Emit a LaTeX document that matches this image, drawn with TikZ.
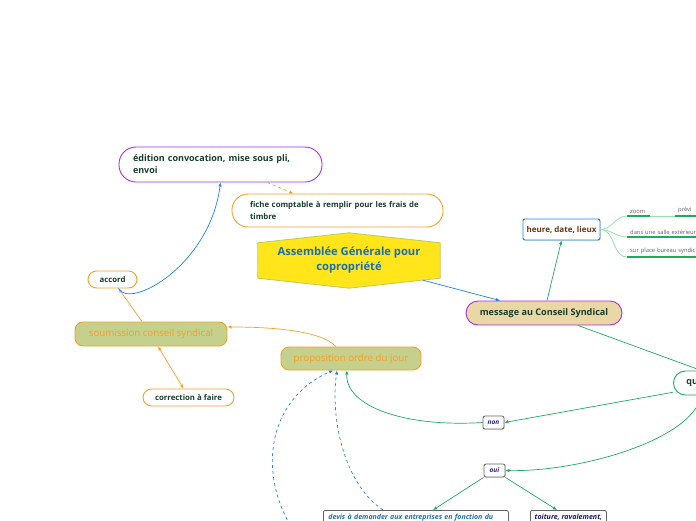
\documentclass[tikz,border=0pt]{standalone}
\usepackage{fontspec}
\setmainfont{Open Sans}
\usetikzlibrary{arrows.meta, shadows, backgrounds}

\definecolor{mmviolet}{RGB}{170,45,230}
\definecolor{mmtexte}{RGB}{25,62,45}
\definecolor{mmorange}{RGB}{246,160,40}
\definecolor{mmolive}{RGB}{196,208,140}
\definecolor{mmsable}{RGB}{233,215,166}
\definecolor{mmjaune}{RGB}{255,229,25}
\definecolor{mmjbord}{RGB}{185,205,90}
\definecolor{mmbleu}{RGB}{30,130,230}
\definecolor{mmbleutxt}{RGB}{25,110,180}
\definecolor{mmvert}{RGB}{30,170,95}
\definecolor{mmvertclair}{RGB}{150,225,175}
\definecolor{mmgris}{RGB}{100,100,100}
\definecolor{mmbrun}{RGB}{105,55,20}
\definecolor{mmindigo}{RGB}{40,30,165}

\begin{document}
\begin{tikzpicture}[
        x=1pt, y=-1pt,
        bulle/.style={draw=mmorange, line width=0.9pt, fill=white, text=mmtexte, inner sep=0pt, font=\bfseries},
        pilule/.style={bulle, rounded corners=#1},
        sujet/.style={draw=mmorange, line width=0.9pt, fill=mmolive, text=mmorange, inner sep=0pt, rounded corners=8pt, font=\fontsize{9.7}{11}\selectfont},
        boite/.style={draw=mmgris, line width=0.8pt, fill=white, rounded corners=2pt, inner sep=0pt,
            font=\bfseries\itshape\fontsize{6.5}{8}\selectfont, drop shadow={opacity=0.25, shadow xshift=0.8pt, shadow yshift=-0.8pt}},
        feuille/.style={anchor=south west, inner xsep=3pt, inner ysep=2.5pt, align=left, text=mmgris, font=\fontsize{5.8}{6.5}\selectfont},
        souligne/.style={draw=mmvert, line width=1.2pt},
        branche/.style={draw=mmvertclair, line width=0.8pt},
        fleche/.style={line width=0.7pt, -{Latex[length=4pt,width=3.5pt]}},
        hexa/.style={fill=mmjaune, draw=mmjbord, line width=0.8pt}
    ]
    \useasboundingbox (0,0) rectangle (696,520);
    \clip (0,0) rectangle (696,520);

    % sujet central
    \node[text=mmbleutxt, font=\bfseries\fontsize{11.2}{15}\selectfont, align=center,
        minimum width=182pt, minimum height=55pt, inner sep=0pt] (agc) at (349,260.5) {Assemblée Générale pour\\copropriété};
    \begin{scope}[on background layer]
        \filldraw[hexa] ([yshift=-10pt]agc.north west) -- (agc.north) -- ([yshift=-10pt]agc.north east)
            -- ([yshift=10pt]agc.south east) -- (agc.south) -- ([yshift=10pt]agc.south west) -- cycle;
    \end{scope}

    % branche gauche
    \node[pilule=17pt, draw=mmviolet, minimum height=35pt, text width=175pt, inner xsep=14pt, align=left,
        font=\bfseries\fontsize{9}{12}\selectfont] (edition) at (220.5,164.5) {édition convocation, mise sous pli,\\envoi};
    \node[pilule=16pt, minimum height=33pt, text width=175pt, inner xsep=18pt, align=left,
        font=\bfseries\fontsize{7.8}{12}\selectfont] (fiche) at (337.5,210.5) {fiche comptable à remplir pour les frais de\\timbre};
    \node[pilule=8.5pt, minimum width=49pt, minimum height=17pt, font=\bfseries\fontsize{7.8}{9}\selectfont] (accord) at (112.5,279.5) {accord};
    \node[sujet, minimum width=152pt, minimum height=24pt] (soumission) at (151,334) {soumission conseil syndical};
    \node[pilule=8.5pt, minimum width=91pt, minimum height=17pt, font=\bfseries\fontsize{7.8}{9}\selectfont] (correction) at (188.5,397.5) {correction à faire};
    \node[sujet, minimum width=140pt, minimum height=23pt] (proposition) at (351,358.5) {proposition ordre du jour};

    % branche droite
    \node[pilule=12pt, draw=mmviolet, fill=mmsable, minimum width=156pt, minimum height=24pt,
        font=\bfseries\fontsize{9.1}{11}\selectfont] (message) at (544,313) {message au Conseil Syndical};
    \node[bulle, draw=mmbleu, text=mmbrun, rounded corners=2pt, minimum width=77pt, minimum height=21pt,
        font=\bfseries\fontsize{8}{9}\selectfont, drop shadow={opacity=0.25, shadow xshift=0.8pt, shadow yshift=-0.8pt}] (heure) at (561.5,229.5) {heure, date, lieux};
    \node[feuille, text width=17pt] (zoom) at (627,216) {zoom};
    \node[feuille, text width=60pt] (prevoir) at (675,216) {prévi};
    \node[feuille, text width=100pt] (salle) at (627,237) {dans une salle extérieur};
    \node[feuille, text width=100pt] (place) at (627,257) {sur place bureau syndic};
    \node[pilule=12pt, draw=mmvert, anchor=west, minimum height=24pt, text width=30pt, inner xsep=13pt, align=left,
        font=\bfseries\fontsize{9}{11}\selectfont] (question) at (673,383) {qu};
    \node[boite, text=mmindigo, minimum width=21pt, minimum height=13pt] (non) at (493.5,422.5) {non};
    \node[boite, text=mmindigo, minimum width=21pt, minimum height=13pt] (oui) at (494.5,470.5) {oui};
    \node[boite, text=mmbleutxt, anchor=north west, text width=175pt, inner xsep=5pt, minimum height=14pt, align=left,
        font=\bfseries\itshape\fontsize{7}{8}\selectfont] (devis) at (323,510) {devis à demander aux entreprises en fonction du};
    \node[boite, text=mmindigo!70!black, anchor=north west, minimum width=76pt, inner xsep=3pt, minimum height=14pt,
        font=\bfseries\itshape\fontsize{7.1}{8}\selectfont] (toiture) at (530,510) {toiture, ravalement,};
    \coordinate (horscadre) at (300,540);

    % liens
    \draw[fleche, draw=mmorange, dashed] (edition.-21) -- (fiche.159);
    \draw[fleche, draw=mmbleu] ([xshift=74pt,yshift=8pt]agc.south) -- ([xshift=-44pt]message.north);
    \draw[fleche, draw=mmvert] ([xshift=3pt]message.north) -- (heure.south);
    \foreach \f in {zoom, prevoir, salle, place}
        \draw[souligne] (\f.south west) -- (\f.south east);
    \foreach \f in {zoom, salle, place}
        \draw[branche] (heure.east) to[out=0, in=180] (\f.south west);
    \draw[branche] (zoom.south east) -- (prevoir.south west);
    \draw[fleche, draw=mmvert] ([xshift=34pt]message.south) -- (question.north);
    \draw[fleche, draw=mmvert] (question.198) -- (non.east);
    \draw[fleche, draw=mmvert] (question.south) .. controls (692,440) and (580,472) .. (oui.east);
    \draw[fleche, draw=mmvert] (non.west) .. controls +(-80,5) and +(-2,35) .. ([xshift=-4pt]proposition.south);
    \draw[fleche, draw=mmvert] (oui.south west) -- ([xshift=110pt]devis.north west);
    \draw[fleche, draw=mmvert] (oui.south east) -- ([xshift=27pt]toiture.north west);
    \draw[fleche, draw=mmbleu, dashed] ([xshift=60pt]devis.north west) .. controls (345,485) and (330,420) .. ([xshift=-14pt]proposition.south);
    \draw[fleche, draw=mmbleu, dashed] (horscadre) .. controls (255,480) and (265,400) .. ([xshift=-18pt]proposition.south);
    \draw[fleche, draw=mmorange] ([xshift=-15pt]proposition.north) .. controls (320,330) and (270,327) .. ([yshift=7pt]soumission.east);
    \draw[fleche, draw=mmorange] ([xshift=-9pt]soumission.north) -- ([xshift=6pt]accord.south);
    \draw[fleche, draw=mmbleu] ([xshift=6pt]accord.south) .. controls (130,310) and (210,265) .. (edition.south);
    \draw[line width=0.7pt, draw=mmorange, {Latex[length=4pt,width=3.5pt]}-{Latex[length=4pt,width=3.5pt]}] ([xshift=7pt]soumission.south) -- ([xshift=-5pt]correction.north);

\end{tikzpicture}
\end{document}
